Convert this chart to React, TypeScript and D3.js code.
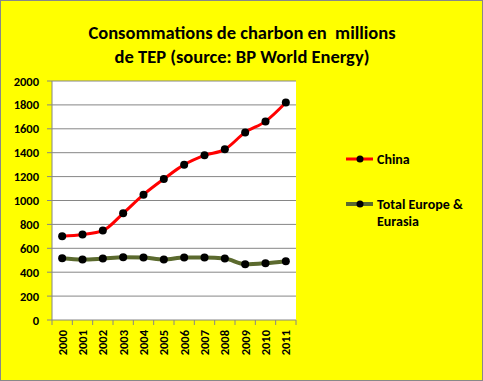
import React from "react";
import * as d3 from "d3";

const years = ["2000","2001","2002","2003","2004","2005","2006","2007","2008","2009","2010","2011"];
const china = [700, 715, 748, 893, 1049, 1180, 1300, 1378, 1428, 1570, 1662, 1820];
const europe = [517, 506, 514, 525, 522, 506, 522, 522, 514, 466, 475, 492];
const yTicks = [0, 200, 400, 600, 800, 1000, 1200, 1400, 1600, 1800, 2000];
const seriesNames = ["China", "Total Europe & Eurasia"];

const W = 483, H = 381;
const left = 52, right = 296, top = 81, bottom = 320;
const font = "Carlito, Calibri, Lato, 'Open Sans', sans-serif";

export default function App() {
  const x = d3.scaleBand<string>().domain(years).range([left, right]);
  const y = d3.scaleLinear().domain([0, 2000]).range([bottom, top]);
  const line = d3.line<number>()
    .x((_, i) => (x(years[i]) as number) + x.bandwidth() / 2)
    .y(d => y(d))
    .curve(d3.curveMonotoneX);
  const series = [
    { name: seriesNames[0], data: china, color: "#ff0000", w: 3 },
    { name: seriesNames[1], data: europe, color: "#5b6a2e", w: 4 },
  ];
  return (
    <svg width={W} height={H} style={{ position: "absolute", left: 0, top: 0 }} fontFamily={font}>
      <rect x={0.5} y={0.5} width={W - 1} height={H - 1} fill="#ffff00" stroke="#888" />
      <text x={242} y={39} textAnchor="middle" fontSize={18.5} fontWeight="bold" fill="#000" style={{ whiteSpace: "pre" }}>
        {"Consommations de charbon en  millions"}
      </text>
      <text x={242} y={63} textAnchor="middle" fontSize={18.5} fontWeight="bold" fill="#000">
        de TEP (source: BP World Energy)
      </text>
      <rect x={left} y={top} width={right - left} height={bottom - top} fill="#fff" />
      {yTicks.map(t => (
        <g key={t}>
          {t > 0 && <line x1={left} x2={right} y1={y(t)} y2={y(t)} stroke="#868686" strokeWidth={1} />}
          <line x1={left - 5} x2={left} y1={y(t)} y2={y(t)} stroke="#868686" />
          <text x={left - 13} y={y(t) + 4.5} textAnchor="end" fontSize={12.5} fontWeight="bold">{t}</text>
        </g>
      ))}
      <line x1={left} x2={left} y1={top} y2={bottom} stroke="#868686" />
      <line x1={left} x2={right} y1={bottom} y2={bottom} stroke="#868686" />
      {years.map((yr, i) => (
        <g key={yr}>
          <line x1={x(yr) as number} x2={x(yr) as number} y1={bottom} y2={bottom + 5} stroke="#868686" />
          {i === years.length - 1 && (
            <line x1={right} x2={right} y1={bottom} y2={bottom + 5} stroke="#868686" />
          )}
          <text
            transform={`translate(${(x(yr) as number) + x.bandwidth() / 2 + 4.5},${bottom + 10}) rotate(-90)`}
            textAnchor="end" fontSize={12.5} fontWeight="bold">{yr}</text>
        </g>
      ))}
      {series.map(s => (
        <g key={s.name}>
          <path d={line(s.data) || ""} fill="none" stroke={s.color} strokeWidth={s.w} strokeLinejoin="round" />
          {s.data.map((v, i) => (
            <circle key={i} cx={(x(years[i]) as number) + x.bandwidth() / 2} cy={y(v)} r={4} fill="#000" />
          ))}
        </g>
      ))}
      <g fontSize={14} fontWeight="bold">
        <line x1={346} x2={373} y1={159} y2={159} stroke={series[0].color} strokeWidth={3} />
        <circle cx={360} cy={159} r={3.5} fill="#000" />
        <text x={377} y={164}>{seriesNames[0]}</text>
        <line x1={346} x2={373} y1={204} y2={204} stroke={series[1].color} strokeWidth={4} />
        <circle cx={360} cy={204} r={3.5} fill="#000" />
        <text x={377} y={208.5}>Total Europe &amp;</text>
        <text x={377} y={225.5}>Eurasia</text>
      </g>
    </svg>
  );
}
